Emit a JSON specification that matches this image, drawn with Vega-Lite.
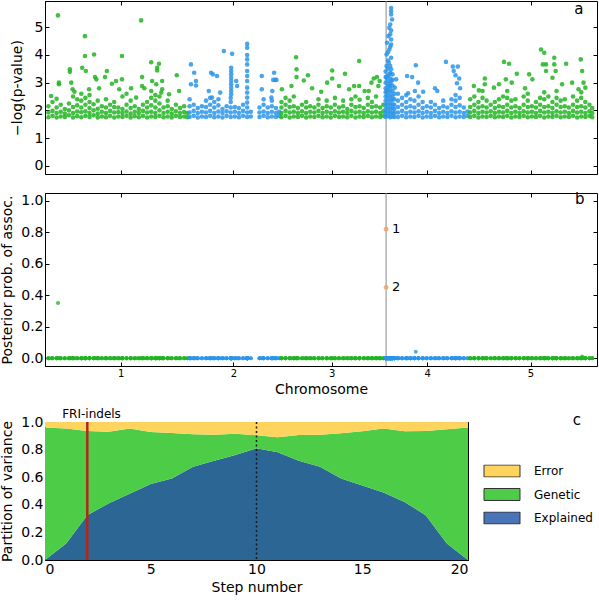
{
"$schema":"https://vega.github.io/schema/vega-lite/v6.json",
"padding":0,
"background":"white",
"config":{
 "font":"DejaVu Sans",
 "view":{"stroke":"black","strokeWidth":1},
 "axis":{"grid":false,"domainColor":"black","tickColor":"black","labelColor":"black","titleColor":"black","tickSize":-4,"labelPadding":6,"labelFontSize":14,"titleFontSize":14,"titleFontWeight":"normal","labelFont":"DejaVu Sans","titleFont":"DejaVu Sans"},
 "legend":{"labelFont":"DejaVu Sans"}
},
"resolve":{"scale":{"color":"independent"}},
"datasets":{
"snp":[
{"x":0.3,"y":1.75,"p":0,"c":1},{"x":0.3,"y":1.92,"p":0,"c":1},{"x":0.3,"y":2.15,"p":0,"c":1},
{"x":1.2,"y":1.8,"p":0,"c":1},{"x":1.2,"y":1.98,"p":0,"c":1},{"x":1.2,"y":2.3,"p":0,"c":1},
{"x":2.1,"y":1.74,"p":0,"c":1},{"x":2.1,"y":1.9,"p":0,"c":1},{"x":2.1,"y":2.1,"p":0,"c":1},{"x":2.1,"y":2.42,"p":0,"c":1},
{"x":3.0,"y":1.78,"p":0,"c":1},{"x":3.0,"y":1.95,"p":0,"c":1},{"x":3.0,"y":2.2,"p":0,"c":1},
{"x":3.9,"y":1.76,"p":0,"c":1},{"x":3.9,"y":1.88,"p":0,"c":1},{"x":3.9,"y":2.05,"p":0,"c":1},
{"x":4.8,"y":1.82,"p":0,"c":1},{"x":4.8,"y":2.0,"p":0,"c":1},{"x":4.8,"y":2.25,"p":0,"c":1},
{"x":5.7,"y":1.74,"p":0,"c":1},{"x":5.7,"y":1.9,"p":0,"c":1},{"x":5.7,"y":2.12,"p":0,"c":1},{"x":5.7,"y":2.5,"p":0,"c":1},
{"x":6.6,"y":1.79,"p":0,"c":1},{"x":6.6,"y":1.96,"p":0,"c":1},{"x":6.6,"y":2.18,"p":0,"c":1},{"x":6.6,"y":2.4,"p":0,"c":1},
{"x":7.5,"y":1.75,"p":0,"c":1},{"x":7.5,"y":1.93,"p":0,"c":1},{"x":7.5,"y":2.1,"p":0,"c":1},{"x":7.5,"y":2.35,"p":0,"c":1},{"x":7.5,"y":2.6,"p":0,"c":1},
{"x":8.4,"y":1.8,"p":0,"c":1},{"x":8.4,"y":1.97,"p":0,"c":1},{"x":8.4,"y":2.2,"p":0,"c":1},{"x":8.4,"y":2.45,"p":0,"c":1},
{"x":9.3,"y":1.76,"p":0,"c":1},{"x":9.3,"y":1.9,"p":0,"c":1},{"x":9.3,"y":2.08,"p":0,"c":1},{"x":9.3,"y":2.3,"p":0,"c":1},{"x":9.3,"y":2.55,"p":0,"c":1},
{"x":10.2,"y":1.82,"p":0,"c":1},{"x":10.2,"y":2.0,"p":0,"c":1},{"x":10.2,"y":2.22,"p":0,"c":1},
{"x":11.1,"y":1.74,"p":0,"c":1},{"x":11.1,"y":1.88,"p":0,"c":1},{"x":11.1,"y":2.06,"p":0,"c":1},{"x":11.1,"y":2.35,"p":0,"c":1},
{"x":12.0,"y":1.78,"p":0,"c":1},{"x":12.0,"y":1.95,"p":0,"c":1},{"x":12.0,"y":2.15,"p":0,"c":1},
{"x":12.9,"y":1.75,"p":0,"c":1},{"x":12.9,"y":1.9,"p":0,"c":1},{"x":12.9,"y":2.1,"p":0,"c":1},{"x":12.9,"y":2.4,"p":0,"c":1},
{"x":13.8,"y":1.8,"p":0,"c":1},{"x":13.8,"y":1.98,"p":0,"c":1},{"x":13.8,"y":2.2,"p":0,"c":1},
{"x":14.7,"y":1.74,"p":0,"c":1},{"x":14.7,"y":1.92,"p":0,"c":1},{"x":14.7,"y":2.12,"p":0,"c":1},{"x":14.7,"y":2.3,"p":0,"c":1},
{"x":15.6,"y":1.78,"p":0,"c":1},{"x":15.6,"y":1.94,"p":0,"c":1},{"x":15.6,"y":2.1,"p":0,"c":1},
{"x":16.5,"y":1.76,"p":0,"c":1},{"x":16.5,"y":1.9,"p":0,"c":1},{"x":16.5,"y":2.05,"p":0,"c":1},{"x":16.5,"y":2.5,"p":0,"c":1},
{"x":17.4,"y":1.8,"p":0,"c":1},{"x":17.4,"y":1.96,"p":0,"c":1},{"x":17.4,"y":2.2,"p":0,"c":1},{"x":17.4,"y":2.6,"p":0,"c":1},
{"x":18.3,"y":1.74,"p":0,"c":1},{"x":18.3,"y":1.88,"p":0,"c":1},{"x":18.3,"y":2.08,"p":0,"c":1},{"x":18.3,"y":2.35,"p":0,"c":1},
{"x":19.2,"y":1.79,"p":0,"c":1},{"x":19.2,"y":1.95,"p":0,"c":1},{"x":19.2,"y":2.15,"p":0,"c":1},
{"x":20.1,"y":1.75,"p":0,"c":1},{"x":20.1,"y":1.9,"p":0,"c":1},{"x":20.1,"y":2.05,"p":0,"c":1},
{"x":21.0,"y":1.8,"p":0,"c":1},{"x":21.0,"y":1.98,"p":0,"c":1},{"x":21.0,"y":2.2,"p":0,"c":1},
{"x":21.9,"y":1.74,"p":0,"c":1},{"x":21.9,"y":1.92,"p":0,"c":1},{"x":21.9,"y":2.1,"p":0,"c":1},{"x":21.9,"y":2.3,"p":0,"c":1},
{"x":22.8,"y":1.78,"p":0,"c":1},{"x":22.8,"y":1.95,"p":0,"c":1},{"x":22.8,"y":2.18,"p":0,"c":1},{"x":22.8,"y":2.45,"p":0,"c":1},{"x":22.8,"y":2.7,"p":0,"c":1},
{"x":23.7,"y":1.76,"p":0,"c":1},{"x":23.7,"y":1.9,"p":0,"c":1},{"x":23.7,"y":2.1,"p":0,"c":1},{"x":23.7,"y":2.35,"p":0,"c":1},{"x":23.7,"y":2.55,"p":0,"c":1},
{"x":24.6,"y":1.8,"p":0,"c":1},{"x":24.6,"y":2.0,"p":0,"c":1},{"x":24.6,"y":2.25,"p":0,"c":1},{"x":24.6,"y":2.5,"p":0,"c":1},
{"x":25.5,"y":1.75,"p":0,"c":1},{"x":25.5,"y":1.9,"p":0,"c":1},{"x":25.5,"y":2.1,"p":0,"c":1},
{"x":26.4,"y":1.78,"p":0,"c":1},{"x":26.4,"y":1.95,"p":0,"c":1},{"x":26.4,"y":2.15,"p":0,"c":1},{"x":26.4,"y":2.35,"p":0,"c":1},
{"x":27.3,"y":1.74,"p":0,"c":1},{"x":27.3,"y":1.88,"p":0,"c":1},{"x":27.3,"y":2.05,"p":0,"c":1},
{"x":28.2,"y":1.8,"p":0,"c":1},{"x":28.2,"y":1.97,"p":0,"c":1},{"x":28.2,"y":2.2,"p":0,"c":1},
{"x":29.1,"y":1.76,"p":0,"c":1},{"x":29.1,"y":1.9,"p":0,"c":1},{"x":29.1,"y":2.08,"p":0,"c":1},
{"x":30.0,"y":1.78,"p":0,"c":1},{"x":30.0,"y":1.94,"p":0,"c":1},{"x":30.0,"y":2.15,"p":0,"c":1},
{"x":30.7,"y":1.75,"p":0,"c":1},{"x":30.7,"y":1.9,"p":0,"c":1},
{"x":2.4,"y":5.43,"p":0.35,"c":1},{"x":8.3,"y":4.68,"p":0,"c":1},{"x":8.3,"y":3.96,"p":0,"c":1},{"x":10.3,"y":4.02,"p":0,"c":1},{"x":20.6,"y":5.25,"p":0,"c":1},{"x":16.4,"y":3.96,"p":0,"c":1},{"x":22.8,"y":3.74,"p":0,"c":1},{"x":24.5,"y":3.68,"p":0,"c":1},{"x":24.1,"y":3.54,"p":0,"c":1},{"x":24.1,"y":3.44,"p":0,"c":1},{"x":28.4,"y":3.27,"p":0,"c":1},{"x":2.6,"y":3.0,"p":0,"c":1},{"x":2.6,"y":2.94,"p":0,"c":1},{"x":5.0,"y":3.48,"p":0,"c":1},{"x":5.0,"y":3.39,"p":0,"c":1},{"x":7.7,"y":3.54,"p":0,"c":1},{"x":8.5,"y":3.42,"p":0,"c":1},{"x":10.5,"y":3.2,"p":0,"c":1},{"x":10.8,"y":3.12,"p":0,"c":1},{"x":13.1,"y":3.42,"p":0,"c":1},{"x":12.7,"y":3.2,"p":0,"c":1},{"x":15.1,"y":3.06,"p":0,"c":1},{"x":16.4,"y":3.12,"p":0,"c":1},{"x":20.8,"y":3.2,"p":0,"c":1},{"x":23.0,"y":3.06,"p":0,"c":1},{"x":23.9,"y":2.94,"p":0,"c":1},{"x":25.2,"y":3.06,"p":0,"c":1},{"x":0.9,"y":2.52,"p":0,"c":1},{"x":5.3,"y":3.0,"p":0,"c":1},{"x":5.6,"y":2.76,"p":0,"c":1},{"x":6.0,"y":2.67,"p":0,"c":1},{"x":9.2,"y":2.76,"p":0,"c":1},{"x":11.4,"y":2.8,"p":0,"c":1},{"x":14.2,"y":2.96,"p":0,"c":1},{"x":15.8,"y":2.76,"p":0,"c":1},{"x":18.4,"y":2.8,"p":0,"c":1},{"x":19.5,"y":2.46,"p":0,"c":1},{"x":20.8,"y":2.88,"p":0,"c":1},{"x":21.3,"y":2.8,"p":0,"c":1},{"x":25.2,"y":2.76,"p":0,"c":1},{"x":25.0,"y":2.64,"p":0,"c":1},{"x":26.7,"y":2.58,"p":0,"c":1},{"x":28.9,"y":2.7,"p":0,"c":1},
{"x":31.2,"y":1.76,"p":0,"c":2},{"x":31.2,"y":1.92,"p":0,"c":2},{"x":31.2,"y":2.15,"p":0,"c":2},{"x":31.2,"y":2.4,"p":0,"c":2},
{"x":32.1,"y":1.8,"p":0,"c":2},{"x":32.1,"y":1.98,"p":0,"c":2},{"x":32.1,"y":2.2,"p":0,"c":2},
{"x":33.0,"y":1.74,"p":0,"c":2},{"x":33.0,"y":1.9,"p":0,"c":2},{"x":33.0,"y":2.08,"p":0,"c":2},
{"x":33.9,"y":1.78,"p":0,"c":2},{"x":33.9,"y":1.95,"p":0,"c":2},{"x":33.9,"y":2.15,"p":0,"c":2},
{"x":34.8,"y":1.76,"p":0,"c":2},{"x":34.8,"y":1.92,"p":0,"c":2},{"x":34.8,"y":2.12,"p":0,"c":2},{"x":34.8,"y":2.35,"p":0,"c":2},
{"x":35.7,"y":1.8,"p":0,"c":2},{"x":35.7,"y":1.98,"p":0,"c":2},{"x":35.7,"y":2.2,"p":0,"c":2},{"x":35.7,"y":2.45,"p":0,"c":2},
{"x":36.6,"y":1.75,"p":0,"c":2},{"x":36.6,"y":1.9,"p":0,"c":2},{"x":36.6,"y":2.1,"p":0,"c":2},{"x":36.6,"y":2.3,"p":0,"c":2},
{"x":37.5,"y":1.78,"p":0,"c":2},{"x":37.5,"y":1.96,"p":0,"c":2},{"x":37.5,"y":2.18,"p":0,"c":2},{"x":37.5,"y":2.4,"p":0,"c":2},
{"x":38.4,"y":1.74,"p":0,"c":2},{"x":38.4,"y":1.9,"p":0,"c":2},{"x":38.4,"y":2.05,"p":0,"c":2},
{"x":39.3,"y":1.8,"p":0,"c":2},{"x":39.3,"y":1.97,"p":0,"c":2},{"x":39.3,"y":2.15,"p":0,"c":2},
{"x":40.2,"y":1.76,"p":0,"c":2},{"x":40.2,"y":1.92,"p":0,"c":2},{"x":40.2,"y":2.1,"p":0,"c":2},{"x":40.2,"y":2.3,"p":0,"c":2},{"x":40.2,"y":2.45,"p":0,"c":2},
{"x":41.1,"y":1.78,"p":0,"c":2},{"x":41.1,"y":1.95,"p":0,"c":2},{"x":41.1,"y":2.12,"p":0,"c":2},
{"x":42.0,"y":1.75,"p":0,"c":2},{"x":42.0,"y":1.9,"p":0,"c":2},{"x":42.0,"y":2.08,"p":0,"c":2},
{"x":42.9,"y":1.8,"p":0,"c":2},{"x":42.9,"y":1.98,"p":0,"c":2},{"x":42.9,"y":2.2,"p":0,"c":2},
{"x":43.8,"y":1.76,"p":0,"c":2},{"x":43.8,"y":1.92,"p":0,"c":2},{"x":43.8,"y":2.1,"p":0,"c":2},{"x":43.8,"y":2.28,"p":0,"c":2},
{"x":44.6,"y":1.78,"p":0,"c":2},{"x":44.6,"y":1.95,"p":0,"c":2},
{"x":46.5,"y":1.76,"p":0,"c":2},{"x":46.5,"y":1.92,"p":0,"c":2},{"x":46.5,"y":2.1,"p":0,"c":2},
{"x":47.4,"y":1.8,"p":0,"c":2},{"x":47.4,"y":1.96,"p":0,"c":2},{"x":47.4,"y":2.2,"p":0,"c":2},{"x":47.4,"y":2.4,"p":0,"c":2},
{"x":48.3,"y":1.75,"p":0,"c":2},{"x":48.3,"y":1.9,"p":0,"c":2},{"x":48.3,"y":2.1,"p":0,"c":2},
{"x":49.2,"y":1.78,"p":0,"c":2},{"x":49.2,"y":1.95,"p":0,"c":2},{"x":49.2,"y":2.15,"p":0,"c":2},{"x":49.2,"y":2.35,"p":0,"c":2},
{"x":50.1,"y":1.76,"p":0,"c":2},{"x":50.1,"y":1.9,"p":0,"c":2},{"x":50.1,"y":2.08,"p":0,"c":2},
{"x":50.8,"y":1.8,"p":0,"c":2},{"x":50.8,"y":1.95,"p":0,"c":2},
{"x":31.5,"y":3.66,"p":0,"c":2},{"x":32.2,"y":3.36,"p":0,"c":2},{"x":32.6,"y":3.06,"p":0,"c":2},{"x":32.6,"y":2.9,"p":0,"c":2},{"x":31.5,"y":2.94,"p":0,"c":2},{"x":35.9,"y":3.36,"p":0,"c":2},{"x":36.3,"y":3.3,"p":0,"c":2},{"x":37.2,"y":3.24,"p":0,"c":2},{"x":38.7,"y":4.14,"p":0,"c":2},{"x":40.5,"y":4.04,"p":0,"c":2},
{"x":40.3,"y":3.54,"p":0,"c":2},{"x":40.3,"y":3.42,"p":0,"c":2},{"x":40.3,"y":3.3,"p":0,"c":2},{"x":40.3,"y":3.18,"p":0,"c":2},{"x":40.3,"y":3.06,"p":0,"c":2},{"x":40.3,"y":2.94,"p":0,"c":2},{"x":40.3,"y":2.82,"p":0,"c":2},{"x":40.3,"y":2.7,"p":0,"c":2},{"x":40.3,"y":2.58,"p":0,"c":2},
{"x":41.4,"y":3.06,"p":0,"c":2},{"x":41.6,"y":2.88,"p":0,"c":2},
{"x":43.8,"y":4.4,"p":0,"c":2},{"x":43.8,"y":4.26,"p":0,"c":2},{"x":43.8,"y":4.0,"p":0,"c":2},{"x":43.8,"y":3.84,"p":0,"c":2},{"x":43.8,"y":3.66,"p":0,"c":2},{"x":43.8,"y":3.42,"p":0,"c":2},{"x":43.8,"y":3.24,"p":0,"c":2},{"x":43.8,"y":3.06,"p":0,"c":2},{"x":43.8,"y":2.82,"p":0,"c":2},{"x":43.8,"y":2.64,"p":0,"c":2},{"x":43.8,"y":2.46,"p":0,"c":2},
{"x":47.0,"y":3.24,"p":0,"c":2},{"x":47.0,"y":2.76,"p":0,"c":2},{"x":49.7,"y":3.36,"p":0,"c":2},{"x":49.9,"y":3.1,"p":0,"c":2},{"x":49.5,"y":3.1,"p":0,"c":2},{"x":50.2,"y":3.1,"p":0,"c":2},{"x":49.3,"y":2.7,"p":0,"c":2},{"x":49.1,"y":2.46,"p":0,"c":2},{"x":36.1,"y":2.46,"p":0,"c":2},{"x":35.4,"y":2.7,"p":0,"c":2},{"x":37.9,"y":2.64,"p":0,"c":2},
{"x":51.3,"y":1.75,"p":0,"c":3},{"x":51.3,"y":1.9,"p":0,"c":3},{"x":51.3,"y":2.1,"p":0,"c":3},{"x":51.3,"y":2.3,"p":0,"c":3},
{"x":52.2,"y":1.8,"p":0,"c":3},{"x":52.2,"y":1.98,"p":0,"c":3},{"x":52.2,"y":2.2,"p":0,"c":3},{"x":52.2,"y":2.45,"p":0,"c":3},
{"x":53.1,"y":1.74,"p":0,"c":3},{"x":53.1,"y":1.92,"p":0,"c":3},{"x":53.1,"y":2.12,"p":0,"c":3},{"x":53.1,"y":2.35,"p":0,"c":3},
{"x":54.0,"y":1.78,"p":0,"c":3},{"x":54.0,"y":1.95,"p":0,"c":3},{"x":54.0,"y":2.15,"p":0,"c":3},{"x":54.0,"y":2.5,"p":0,"c":3},
{"x":54.9,"y":1.76,"p":0,"c":3},{"x":54.9,"y":1.9,"p":0,"c":3},{"x":54.9,"y":2.08,"p":0,"c":3},
{"x":55.8,"y":1.8,"p":0,"c":3},{"x":55.8,"y":1.97,"p":0,"c":3},{"x":55.8,"y":2.2,"p":0,"c":3},
{"x":56.7,"y":1.74,"p":0,"c":3},{"x":56.7,"y":1.9,"p":0,"c":3},{"x":56.7,"y":2.1,"p":0,"c":3},{"x":56.7,"y":2.3,"p":0,"c":3},
{"x":57.6,"y":1.78,"p":0,"c":3},{"x":57.6,"y":1.95,"p":0,"c":3},{"x":57.6,"y":2.15,"p":0,"c":3},
{"x":58.5,"y":1.76,"p":0,"c":3},{"x":58.5,"y":1.92,"p":0,"c":3},{"x":58.5,"y":2.1,"p":0,"c":3},
{"x":59.4,"y":1.8,"p":0,"c":3},{"x":59.4,"y":1.98,"p":0,"c":3},{"x":59.4,"y":2.2,"p":0,"c":3},{"x":59.4,"y":2.4,"p":0,"c":3},
{"x":60.3,"y":1.75,"p":0,"c":3},{"x":60.3,"y":1.9,"p":0,"c":3},{"x":60.3,"y":2.08,"p":0,"c":3},
{"x":61.2,"y":1.78,"p":0,"c":3},{"x":61.2,"y":1.95,"p":0,"c":3},{"x":61.2,"y":2.15,"p":0,"c":3},{"x":61.2,"y":2.35,"p":0,"c":3},
{"x":62.1,"y":1.74,"p":0,"c":3},{"x":62.1,"y":1.9,"p":0,"c":3},{"x":62.1,"y":2.1,"p":0,"c":3},
{"x":63.0,"y":1.8,"p":0,"c":3},{"x":63.0,"y":1.97,"p":0,"c":3},{"x":63.0,"y":2.2,"p":0,"c":3},{"x":63.0,"y":2.45,"p":0,"c":3},
{"x":63.9,"y":1.76,"p":0,"c":3},{"x":63.9,"y":1.92,"p":0,"c":3},{"x":63.9,"y":2.1,"p":0,"c":3},
{"x":64.8,"y":1.78,"p":0,"c":3},{"x":64.8,"y":1.95,"p":0,"c":3},{"x":64.8,"y":2.15,"p":0,"c":3},{"x":64.8,"y":2.35,"p":0,"c":3},
{"x":65.7,"y":1.75,"p":0,"c":3},{"x":65.7,"y":1.9,"p":0,"c":3},{"x":65.7,"y":2.05,"p":0,"c":3},
{"x":66.6,"y":1.8,"p":0,"c":3},{"x":66.6,"y":1.98,"p":0,"c":3},{"x":66.6,"y":2.2,"p":0,"c":3},{"x":66.6,"y":2.4,"p":0,"c":3},
{"x":67.5,"y":1.74,"p":0,"c":3},{"x":67.5,"y":1.92,"p":0,"c":3},{"x":67.5,"y":2.12,"p":0,"c":3},{"x":67.5,"y":2.5,"p":0,"c":3},
{"x":68.4,"y":1.78,"p":0,"c":3},{"x":68.4,"y":1.95,"p":0,"c":3},{"x":68.4,"y":2.15,"p":0,"c":3},{"x":68.4,"y":2.38,"p":0,"c":3},
{"x":69.3,"y":1.76,"p":0,"c":3},{"x":69.3,"y":1.9,"p":0,"c":3},{"x":69.3,"y":2.08,"p":0,"c":3},
{"x":70.2,"y":1.8,"p":0,"c":3},{"x":70.2,"y":1.97,"p":0,"c":3},{"x":70.2,"y":2.2,"p":0,"c":3},{"x":70.2,"y":2.45,"p":0,"c":3},
{"x":71.1,"y":1.75,"p":0,"c":3},{"x":71.1,"y":1.92,"p":0,"c":3},{"x":71.1,"y":2.12,"p":0,"c":3},{"x":71.1,"y":2.3,"p":0,"c":3},
{"x":72.0,"y":1.78,"p":0,"c":3},{"x":72.0,"y":1.95,"p":0,"c":3},{"x":72.0,"y":2.15,"p":0,"c":3},{"x":72.0,"y":2.5,"p":0,"c":3},
{"x":72.9,"y":1.76,"p":0,"c":3},{"x":72.9,"y":1.9,"p":0,"c":3},{"x":72.9,"y":2.1,"p":0,"c":3},
{"x":73.6,"y":1.8,"p":0,"c":3},{"x":73.6,"y":1.97,"p":0,"c":3},{"x":73.6,"y":2.2,"p":0,"c":3},
{"x":51.4,"y":2.76,"p":0,"c":3},{"x":53.5,"y":2.88,"p":0,"c":3},{"x":54.5,"y":3.92,"p":0,"c":3},{"x":54.6,"y":3.48,"p":0,"c":3},{"x":54.6,"y":3.2,"p":0,"c":3},{"x":56.2,"y":3.08,"p":0,"c":3},{"x":57.1,"y":3.27,"p":0,"c":3},{"x":58.0,"y":2.8,"p":0,"c":3},{"x":60.0,"y":2.67,"p":0,"c":3},{"x":61.3,"y":3.0,"p":0,"c":3},{"x":62.4,"y":3.44,"p":0,"c":3},{"x":62.4,"y":3.15,"p":0,"c":3},{"x":63.9,"y":2.88,"p":0,"c":3},{"x":65.2,"y":3.32,"p":0,"c":3},{"x":66.1,"y":2.76,"p":0,"c":3},{"x":67.2,"y":2.88,"p":0,"c":3},{"x":68.3,"y":3.78,"p":0,"c":3},{"x":68.3,"y":2.88,"p":0,"c":3},{"x":71.0,"y":3.0,"p":0,"c":3},{"x":71.5,"y":3.15,"p":0,"c":3},{"x":72.2,"y":3.2,"p":0,"c":3},{"x":72.8,"y":3.06,"p":0,"c":3},{"x":69.5,"y":2.7,"p":0,"c":3},{"x":70.4,"y":2.7,"p":0,"c":3},{"x":72.5,"y":2.88,"p":0,"c":3},
{"x":74.1,"y":1.76,"p":0,"c":4},{"x":74.1,"y":1.9,"p":0,"c":4},{"x":74.1,"y":2.05,"p":0,"c":4},{"x":74.1,"y":2.2,"p":0,"c":4},{"x":74.1,"y":2.35,"p":0,"c":4},{"x":74.1,"y":2.5,"p":0,"c":4},{"x":74.1,"y":2.65,"p":0,"c":4},{"x":74.1,"y":2.8,"p":0,"c":4},{"x":74.1,"y":3.0,"p":0,"c":4},{"x":74.1,"y":3.2,"p":0,"c":4},{"x":74.1,"y":3.4,"p":0,"c":4},
{"x":74.6,"y":1.8,"p":0,"c":4},{"x":74.6,"y":1.95,"p":0,"c":4},{"x":74.6,"y":2.1,"p":0,"c":4},{"x":74.6,"y":2.25,"p":0,"c":4},{"x":74.6,"y":2.4,"p":0,"c":4},{"x":74.6,"y":2.55,"p":0,"c":4},{"x":74.6,"y":2.72,"p":0,"c":4},{"x":74.6,"y":2.9,"p":0,"c":4},{"x":74.6,"y":3.05,"p":0,"c":4},{"x":74.6,"y":3.25,"p":0,"c":4},{"x":74.6,"y":3.5,"p":0,"c":4},{"x":74.6,"y":3.8,"p":0,"c":4},{"x":74.6,"y":4.1,"p":0,"c":4},
{"x":75.1,"y":1.75,"p":0,"c":4},{"x":75.1,"y":1.9,"p":0,"c":4},{"x":75.1,"y":2.05,"p":0,"c":4},{"x":75.1,"y":2.2,"p":0,"c":4},{"x":75.1,"y":2.35,"p":0,"c":4},{"x":75.1,"y":2.5,"p":0,"c":4},{"x":75.1,"y":2.65,"p":0,"c":4},{"x":75.1,"y":2.8,"p":0,"c":4},{"x":75.1,"y":2.95,"p":0,"c":4},{"x":75.1,"y":3.15,"p":0,"c":4},{"x":75.1,"y":3.35,"p":0,"c":4},{"x":75.1,"y":3.6,"p":0,"c":4},{"x":75.1,"y":4.3,"p":0,"c":4},{"x":75.1,"y":4.75,"p":0,"c":4},{"x":75.1,"y":5.1,"p":0,"c":4},
{"x":75.6,"y":1.78,"p":0,"c":4},{"x":75.6,"y":1.92,"p":0,"c":4},{"x":75.6,"y":2.08,"p":0,"c":4},{"x":75.6,"y":2.22,"p":0,"c":4},{"x":75.6,"y":2.38,"p":0,"c":4},{"x":75.6,"y":2.52,"p":0,"c":4},{"x":75.6,"y":2.7,"p":0,"c":4},{"x":75.6,"y":2.9,"p":0,"c":4},{"x":75.6,"y":3.1,"p":0,"c":4},{"x":75.6,"y":3.3,"p":0,"c":4},
{"x":76.0,"y":1.76,"p":0,"c":4},{"x":76.0,"y":1.9,"p":0,"c":4},{"x":76.0,"y":2.05,"p":0,"c":4},{"x":76.0,"y":2.2,"p":0,"c":4},{"x":76.0,"y":2.4,"p":0,"c":4},{"x":76.0,"y":2.6,"p":0,"c":4},
{"x":75.3,"y":5.7,"p":0,"c":4},{"x":75.3,"y":5.58,"p":0,"c":4},{"x":75.3,"y":5.46,"p":0,"c":4},{"x":75.5,"y":5.28,"p":0,"c":4},{"x":74.9,"y":4.98,"p":0,"c":4},{"x":75.3,"y":4.88,"p":0,"c":4},{"x":74.7,"y":4.68,"p":0,"c":4},{"x":75.3,"y":4.56,"p":0,"c":4},{"x":74.4,"y":4.44,"p":0,"c":4},{"x":75.3,"y":4.38,"p":0,"c":4},{"x":74.9,"y":4.2,"p":0,"c":4},{"x":74.3,"y":4.02,"p":0,"c":4},{"x":75.3,"y":3.9,"p":0,"c":4},{"x":74.8,"y":3.72,"p":0,"c":4},{"x":74.3,"y":3.6,"p":0,"c":4},{"x":75.3,"y":3.48,"p":0,"c":4},{"x":74.9,"y":3.3,"p":0,"c":4},{"x":74.3,"y":3.18,"p":0,"c":4},{"x":75.3,"y":3.06,"p":0,"c":4},{"x":74.9,"y":2.88,"p":0,"c":4},{"x":74.3,"y":2.7,"p":0,"c":4},{"x":76.4,"y":3.12,"p":0,"c":4},{"x":76.1,"y":2.82,"p":0,"c":4},
{"x":76.8,"y":1.76,"p":0,"c":4},{"x":76.8,"y":1.92,"p":0,"c":4},{"x":76.8,"y":2.12,"p":0,"c":4},{"x":76.8,"y":2.35,"p":0,"c":4},{"x":76.8,"y":2.6,"p":0,"c":4},
{"x":77.7,"y":1.8,"p":0,"c":4},{"x":77.7,"y":1.98,"p":0,"c":4},{"x":77.7,"y":2.2,"p":0,"c":4},{"x":77.7,"y":2.45,"p":0,"c":4},
{"x":78.6,"y":1.75,"p":0,"c":4},{"x":78.6,"y":1.9,"p":0,"c":4},{"x":78.6,"y":2.1,"p":0,"c":4},{"x":78.6,"y":2.3,"p":0,"c":4},{"x":78.6,"y":2.55,"p":0,"c":4},
{"x":79.5,"y":1.78,"p":0,"c":4},{"x":79.5,"y":1.95,"p":0,"c":4},{"x":79.5,"y":2.15,"p":0,"c":4},{"x":79.5,"y":2.4,"p":0,"c":4},
{"x":80.4,"y":1.76,"p":0,"c":4},{"x":80.4,"y":1.92,"p":0,"c":4},{"x":80.4,"y":2.1,"p":0,"c":4},{"x":80.4,"y":2.35,"p":0,"c":4},
{"x":81.3,"y":1.8,"p":0,"c":4},{"x":81.3,"y":1.97,"p":0,"c":4},{"x":81.3,"y":2.2,"p":0,"c":4},{"x":81.3,"y":2.5,"p":0,"c":4},
{"x":82.2,"y":1.74,"p":0,"c":4},{"x":82.2,"y":1.9,"p":0,"c":4},{"x":82.2,"y":2.08,"p":0,"c":4},{"x":82.2,"y":2.3,"p":0,"c":4},
{"x":83.1,"y":1.78,"p":0,"c":4},{"x":83.1,"y":1.95,"p":0,"c":4},{"x":83.1,"y":2.15,"p":0,"c":4},
{"x":84.0,"y":1.76,"p":0,"c":4},{"x":84.0,"y":1.9,"p":0,"c":4},{"x":84.0,"y":2.1,"p":0,"c":4},{"x":84.0,"y":2.3,"p":0,"c":4},
{"x":84.9,"y":1.8,"p":0,"c":4},{"x":84.9,"y":1.98,"p":0,"c":4},{"x":84.9,"y":2.2,"p":0,"c":4},
{"x":85.8,"y":1.75,"p":0,"c":4},{"x":85.8,"y":1.9,"p":0,"c":4},{"x":85.8,"y":2.08,"p":0,"c":4},
{"x":86.7,"y":1.78,"p":0,"c":4},{"x":86.7,"y":1.95,"p":0,"c":4},{"x":86.7,"y":2.15,"p":0,"c":4},{"x":86.7,"y":2.35,"p":0,"c":4},
{"x":87.6,"y":1.76,"p":0,"c":4},{"x":87.6,"y":1.9,"p":0,"c":4},{"x":87.6,"y":2.1,"p":0,"c":4},
{"x":88.5,"y":1.8,"p":0,"c":4},{"x":88.5,"y":1.97,"p":0,"c":4},{"x":88.5,"y":2.2,"p":0,"c":4},{"x":88.5,"y":2.4,"p":0,"c":4},
{"x":89.4,"y":1.75,"p":0,"c":4},{"x":89.4,"y":1.92,"p":0,"c":4},{"x":89.4,"y":2.12,"p":0,"c":4},{"x":89.4,"y":2.35,"p":0,"c":4},{"x":89.4,"y":2.55,"p":0,"c":4},
{"x":90.3,"y":1.78,"p":0,"c":4},{"x":90.3,"y":1.95,"p":0,"c":4},{"x":90.3,"y":2.18,"p":0,"c":4},{"x":90.3,"y":2.45,"p":0,"c":4},
{"x":91.2,"y":1.76,"p":0,"c":4},{"x":91.2,"y":1.9,"p":0,"c":4},{"x":91.2,"y":2.1,"p":0,"c":4},
{"x":92.0,"y":1.8,"p":0,"c":4},{"x":92.0,"y":1.96,"p":0,"c":4},
{"x":78.8,"y":3.24,"p":0,"c":4},{"x":79.9,"y":3.2,"p":0,"c":4},{"x":80.7,"y":3.63,"p":0.04,"c":4},{"x":81.2,"y":3.0,"p":0,"c":4},{"x":87.3,"y":3.75,"p":0,"c":4},{"x":88.8,"y":3.58,"p":0,"c":4},{"x":89.9,"y":3.58,"p":0,"c":4},{"x":89.0,"y":3.42,"p":0,"c":4},{"x":89.4,"y":3.27,"p":0,"c":4},{"x":90.2,"y":3.15,"p":0,"c":4},{"x":89.7,"y":2.98,"p":0,"c":4},{"x":90.4,"y":2.8,"p":0,"c":4},{"x":80.5,"y":2.7,"p":0,"c":4},{"x":82.3,"y":2.67,"p":0,"c":4},{"x":84.9,"y":2.8,"p":0,"c":4},{"x":85.4,"y":2.7,"p":0,"c":4},{"x":79.0,"y":2.62,"p":0,"c":4},
{"x":92.6,"y":1.76,"p":0,"c":5},{"x":92.6,"y":1.92,"p":0,"c":5},{"x":92.6,"y":2.12,"p":0,"c":5},{"x":92.6,"y":2.4,"p":0,"c":5},
{"x":93.5,"y":1.8,"p":0,"c":5},{"x":93.5,"y":1.98,"p":0,"c":5},{"x":93.5,"y":2.2,"p":0,"c":5},{"x":93.5,"y":2.5,"p":0,"c":5},
{"x":94.4,"y":1.74,"p":0,"c":5},{"x":94.4,"y":1.9,"p":0,"c":5},{"x":94.4,"y":2.1,"p":0,"c":5},{"x":94.4,"y":2.3,"p":0,"c":5},
{"x":95.3,"y":1.78,"p":0,"c":5},{"x":95.3,"y":1.95,"p":0,"c":5},{"x":95.3,"y":2.15,"p":0,"c":5},{"x":95.3,"y":2.45,"p":0,"c":5},{"x":95.3,"y":2.7,"p":0,"c":5},
{"x":96.2,"y":1.76,"p":0,"c":5},{"x":96.2,"y":1.92,"p":0,"c":5},{"x":96.2,"y":2.1,"p":0,"c":5},{"x":96.2,"y":2.35,"p":0,"c":5},
{"x":97.1,"y":1.8,"p":0,"c":5},{"x":97.1,"y":1.97,"p":0,"c":5},{"x":97.1,"y":2.2,"p":0,"c":5},
{"x":98.0,"y":1.75,"p":0,"c":5},{"x":98.0,"y":1.9,"p":0,"c":5},{"x":98.0,"y":2.08,"p":0,"c":5},{"x":98.0,"y":2.3,"p":0,"c":5},
{"x":98.9,"y":1.78,"p":0,"c":5},{"x":98.9,"y":1.95,"p":0,"c":5},{"x":98.9,"y":2.15,"p":0,"c":5},{"x":98.9,"y":2.4,"p":0,"c":5},
{"x":99.8,"y":1.76,"p":0,"c":5},{"x":99.8,"y":1.92,"p":0,"c":5},{"x":99.8,"y":2.12,"p":0,"c":5},{"x":99.8,"y":2.5,"p":0,"c":5},
{"x":100.7,"y":1.8,"p":0,"c":5},{"x":100.7,"y":1.98,"p":0,"c":5},{"x":100.7,"y":2.2,"p":0,"c":5},{"x":100.7,"y":2.45,"p":0,"c":5},{"x":100.7,"y":2.7,"p":0,"c":5},
{"x":101.6,"y":1.74,"p":0,"c":5},{"x":101.6,"y":1.9,"p":0,"c":5},{"x":101.6,"y":2.1,"p":0,"c":5},{"x":101.6,"y":2.35,"p":0,"c":5},
{"x":102.5,"y":1.78,"p":0,"c":5},{"x":102.5,"y":1.95,"p":0,"c":5},{"x":102.5,"y":2.15,"p":0,"c":5},{"x":102.5,"y":2.4,"p":0,"c":5},
{"x":103.4,"y":1.76,"p":0,"c":5},{"x":103.4,"y":1.9,"p":0,"c":5},{"x":103.4,"y":2.08,"p":0,"c":5},
{"x":104.3,"y":1.8,"p":0,"c":5},{"x":104.3,"y":1.97,"p":0,"c":5},{"x":104.3,"y":2.2,"p":0,"c":5},{"x":104.3,"y":2.5,"p":0,"c":5},
{"x":105.2,"y":1.75,"p":0,"c":5},{"x":105.2,"y":1.92,"p":0,"c":5},{"x":105.2,"y":2.12,"p":0,"c":5},{"x":105.2,"y":2.35,"p":0,"c":5},{"x":105.2,"y":2.6,"p":0,"c":5},
{"x":106.1,"y":1.78,"p":0,"c":5},{"x":106.1,"y":1.95,"p":0,"c":5},{"x":106.1,"y":2.15,"p":0,"c":5},
{"x":107.0,"y":1.76,"p":0,"c":5},{"x":107.0,"y":1.9,"p":0,"c":5},{"x":107.0,"y":2.1,"p":0,"c":5},{"x":107.0,"y":2.3,"p":0,"c":5},
{"x":107.9,"y":1.8,"p":0,"c":5},{"x":107.9,"y":1.98,"p":0,"c":5},{"x":107.9,"y":2.2,"p":0,"c":5},{"x":107.9,"y":2.45,"p":0,"c":5},
{"x":108.8,"y":1.74,"p":0,"c":5},{"x":108.8,"y":1.92,"p":0,"c":5},{"x":108.8,"y":2.12,"p":0,"c":5},{"x":108.8,"y":2.4,"p":0,"c":5},{"x":108.8,"y":2.65,"p":0,"c":5},
{"x":109.7,"y":1.78,"p":0,"c":5},{"x":109.7,"y":1.95,"p":0,"c":5},{"x":109.7,"y":2.15,"p":0,"c":5},{"x":109.7,"y":2.5,"p":0,"c":5},
{"x":110.6,"y":1.76,"p":0,"c":5},{"x":110.6,"y":1.9,"p":0,"c":5},{"x":110.6,"y":2.08,"p":0,"c":5},{"x":110.6,"y":2.3,"p":0,"c":5},
{"x":111.5,"y":1.8,"p":0,"c":5},{"x":111.5,"y":1.97,"p":0,"c":5},{"x":111.5,"y":2.2,"p":0,"c":5},{"x":111.5,"y":2.45,"p":0,"c":5},{"x":111.5,"y":2.7,"p":0,"c":5},
{"x":112.4,"y":1.75,"p":0,"c":5},{"x":112.4,"y":1.92,"p":0,"c":5},{"x":112.4,"y":2.12,"p":0,"c":5},{"x":112.4,"y":2.35,"p":0,"c":5},
{"x":113.3,"y":1.78,"p":0,"c":5},{"x":113.3,"y":1.95,"p":0,"c":5},{"x":113.3,"y":2.15,"p":0,"c":5},{"x":113.3,"y":2.4,"p":0,"c":5},
{"x":114.2,"y":1.76,"p":0,"c":5},{"x":114.2,"y":1.9,"p":0,"c":5},{"x":114.2,"y":2.1,"p":0,"c":5},
{"x":115.1,"y":1.8,"p":0,"c":5},{"x":115.1,"y":1.98,"p":0,"c":5},{"x":115.1,"y":2.2,"p":0,"c":5},{"x":115.1,"y":2.5,"p":0,"c":5},
{"x":116.0,"y":1.74,"p":0,"c":5},{"x":116.0,"y":1.92,"p":0,"c":5},{"x":116.0,"y":2.12,"p":0,"c":5},{"x":116.0,"y":2.35,"p":0,"c":5},
{"x":116.9,"y":1.78,"p":0,"c":5},{"x":116.9,"y":1.95,"p":0,"c":5},{"x":116.9,"y":2.15,"p":0,"c":5},{"x":116.9,"y":2.45,"p":0,"c":5},{"x":116.9,"y":2.65,"p":0,"c":5},
{"x":117.8,"y":1.76,"p":0,"c":5},{"x":117.8,"y":1.9,"p":0,"c":5},{"x":117.8,"y":2.1,"p":0,"c":5},{"x":117.8,"y":2.3,"p":0,"c":5},
{"x":118.7,"y":1.8,"p":0,"c":5},{"x":118.7,"y":1.97,"p":0,"c":5},{"x":118.7,"y":2.2,"p":0,"c":5},
{"x":119.3,"y":1.75,"p":0,"c":5},{"x":119.3,"y":1.9,"p":0,"c":5},{"x":119.3,"y":2.08,"p":0,"c":5},
{"x":93.4,"y":2.88,"p":0,"c":5},{"x":94.5,"y":2.72,"p":0,"c":5},{"x":95.8,"y":3.15,"p":0,"c":5},{"x":95.8,"y":2.94,"p":0,"c":5},{"x":100.0,"y":3.75,"p":0,"c":5},{"x":101.1,"y":3.68,"p":0,"c":5},{"x":100.4,"y":3.12,"p":0,"c":5},{"x":101.7,"y":3.0,"p":0,"c":5},{"x":102.8,"y":3.32,"p":0,"c":5},{"x":105.5,"y":3.3,"p":0,"c":5},{"x":106.2,"y":3.12,"p":0,"c":5},{"x":108.1,"y":4.2,"p":0,"c":5},{"x":108.8,"y":4.08,"p":0,"c":5},{"x":108.5,"y":3.66,"p":0,"c":5},{"x":109.2,"y":3.66,"p":0,"c":5},{"x":109.2,"y":3.42,"p":0,"c":5},{"x":111.0,"y":3.9,"p":0,"c":5},{"x":111.0,"y":3.66,"p":0,"c":5},{"x":111.3,"y":3.42,"p":0,"c":5},{"x":110.6,"y":3.18,"p":0,"c":5},{"x":113.6,"y":3.68,"p":0,"c":5},{"x":116.8,"y":3.84,"p":0,"c":5},{"x":117.1,"y":3.42,"p":0.01,"c":5},{"x":114.9,"y":3.0,"p":0,"c":5},{"x":117.4,"y":3.0,"p":0,"c":5},{"x":97.8,"y":2.82,"p":0,"c":5},{"x":98.9,"y":2.94,"p":0,"c":5},{"x":104.6,"y":2.8,"p":0,"c":5},{"x":112.7,"y":2.94,"p":0,"c":5},{"x":116.3,"y":2.76,"p":0,"c":5},{"x":117.8,"y":2.82,"p":0,"c":5}
],
"fri":[{"x":74.2,"p":0.82,"lab":"1"},{"x":74.2,"p":0.45,"lab":"2"}],
"var":[
{"step":0,"comp":"Explained","v":0,"o":0},{"step":0,"comp":"Genetic","v":0.96,"o":1},{"step":0,"comp":"Error","v":0.04,"o":2},
{"step":1,"comp":"Explained","v":0.12,"o":0},{"step":1,"comp":"Genetic","v":0.832,"o":1},{"step":1,"comp":"Error","v":0.048,"o":2},
{"step":2,"comp":"Explained","v":0.325,"o":0},{"step":2,"comp":"Genetic","v":0.61,"o":1},{"step":2,"comp":"Error","v":0.065,"o":2},
{"step":3,"comp":"Explained","v":0.41,"o":0},{"step":3,"comp":"Genetic","v":0.52,"o":1},{"step":3,"comp":"Error","v":0.07,"o":2},
{"step":4,"comp":"Explained","v":0.48,"o":0},{"step":4,"comp":"Genetic","v":0.472,"o":1},{"step":4,"comp":"Error","v":0.048,"o":2},
{"step":5,"comp":"Explained","v":0.55,"o":0},{"step":5,"comp":"Genetic","v":0.378,"o":1},{"step":5,"comp":"Error","v":0.072,"o":2},
{"step":6,"comp":"Explained","v":0.59,"o":0},{"step":6,"comp":"Genetic","v":0.33,"o":1},{"step":6,"comp":"Error","v":0.08,"o":2},
{"step":7,"comp":"Explained","v":0.675,"o":0},{"step":7,"comp":"Genetic","v":0.237,"o":1},{"step":7,"comp":"Error","v":0.088,"o":2},
{"step":8,"comp":"Explained","v":0.72,"o":0},{"step":8,"comp":"Genetic","v":0.188,"o":1},{"step":8,"comp":"Error","v":0.092,"o":2},
{"step":9,"comp":"Explained","v":0.76,"o":0},{"step":9,"comp":"Genetic","v":0.155,"o":1},{"step":9,"comp":"Error","v":0.085,"o":2},
{"step":10,"comp":"Explained","v":0.81,"o":0},{"step":10,"comp":"Genetic","v":0.094,"o":1},{"step":10,"comp":"Error","v":0.096,"o":2},
{"step":11,"comp":"Explained","v":0.78,"o":0},{"step":11,"comp":"Genetic","v":0.11,"o":1},{"step":11,"comp":"Error","v":0.11,"o":2},
{"step":12,"comp":"Explained","v":0.72,"o":0},{"step":12,"comp":"Genetic","v":0.185,"o":1},{"step":12,"comp":"Error","v":0.095,"o":2},
{"step":13,"comp":"Explained","v":0.675,"o":0},{"step":13,"comp":"Genetic","v":0.233,"o":1},{"step":13,"comp":"Error","v":0.092,"o":2},
{"step":14,"comp":"Explained","v":0.59,"o":0},{"step":14,"comp":"Genetic","v":0.328,"o":1},{"step":14,"comp":"Error","v":0.082,"o":2},
{"step":15,"comp":"Explained","v":0.54,"o":0},{"step":15,"comp":"Genetic","v":0.393,"o":1},{"step":15,"comp":"Error","v":0.067,"o":2},
{"step":16,"comp":"Explained","v":0.49,"o":0},{"step":16,"comp":"Genetic","v":0.462,"o":1},{"step":16,"comp":"Error","v":0.048,"o":2},
{"step":17,"comp":"Explained","v":0.42,"o":0},{"step":17,"comp":"Genetic","v":0.513,"o":1},{"step":17,"comp":"Error","v":0.067,"o":2},
{"step":18,"comp":"Explained","v":0.325,"o":0},{"step":18,"comp":"Genetic","v":0.61,"o":1},{"step":18,"comp":"Error","v":0.065,"o":2},
{"step":19,"comp":"Explained","v":0.12,"o":0},{"step":19,"comp":"Genetic","v":0.828,"o":1},{"step":19,"comp":"Error","v":0.052,"o":2},
{"step":20,"comp":"Explained","v":0,"o":0},{"step":20,"comp":"Genetic","v":0.96,"o":1},{"step":20,"comp":"Error","v":0.04,"o":2}
]
},
"spacing":10,
"vconcat":[
{
"spacing":19,
"bounds":"flush",
"vconcat":[
{
"width":552,"height":173,
"resolve":{"axis":{"x":"independent","y":"independent"}},
"layer":[
{"data":{"values":[{"x":74.2}]},"mark":{"type":"rule","color":"#8c8c8c","strokeWidth":1},
 "encoding":{"x":{"field":"x","type":"quantitative","axis":null}}},
{"data":{"name":"snp"},"mark":{"type":"circle","size":21,"opacity":0.85},
 "encoding":{
  "x":{"field":"x","type":"quantitative","scale":{"domain":[-0.44,120.35],"nice":false,"zero":false},"axis":{"values":[16.1,40.8,62.3,83.2,105.8],"labels":false,"title":null}},
  "y":{"field":"y","type":"quantitative","scale":{"domain":[-0.3,5.95],"nice":false,"zero":false},"axis":{"values":[0,1,2,3,4,5],"title":"−log(p-value)","titlePadding":10}},
  "color":{"field":"c","type":"ordinal","scale":{"domain":[1,2,3,4,5],"range":["#22b422","#2b95ea","#22b422","#2b95ea","#22b422"]},"legend":null}}},
{"data":{"values":[{"x":116.4,"y":5.66,"lab":"a"}]},"mark":{"type":"text","fontSize":15,"align":"center","baseline":"middle","color":"black"},
 "encoding":{
  "x":{"field":"x","type":"quantitative","axis":{"orient":"top","values":[16.1,40.8,62.3,83.2,105.8],"labels":false,"title":null,"domain":false}},
  "y":{"field":"y","type":"quantitative","axis":{"orient":"right","values":[0,1,2,3,4,5],"labels":false,"title":null,"domain":false}},
  "text":{"field":"lab"}}}
]
},
{
"width":552,"height":173,
"resolve":{"axis":{"x":"independent","y":"independent"}},
"layer":[
{"data":{"values":[{"x":74.2}]},"mark":{"type":"rule","color":"#8c8c8c","strokeWidth":1},
 "encoding":{"x":{"field":"x","type":"quantitative","axis":null}}},
{"data":{"name":"snp"},"mark":{"type":"circle","size":16,"opacity":0.8},
 "encoding":{
  "x":{"field":"x","type":"quantitative","scale":{"domain":[-0.44,120.35],"nice":false,"zero":false},"axis":{"values":[16.1,40.8,62.3,83.2,105.8],"labelExpr":"datum.value < 30 ? '1' : datum.value < 50 ? '2' : datum.value < 70 ? '3' : datum.value < 95 ? '4' : '5'","labelFontSize":10,"title":"Chromosome","titlePadding":4}},
  "y":{"field":"p","type":"quantitative","scale":{"domain":[-0.05,1.05],"nice":false,"zero":false},"axis":{"values":[0,0.2,0.4,0.6,0.8,1.0],"format":".1f","title":"Posterior prob. of assoc.","titlePadding":6}},
  "color":{"field":"c","type":"ordinal","scale":{"domain":[1,2,3,4,5],"range":["#22b422","#2b95ea","#22b422","#2b95ea","#22b422"]},"legend":null}}},
{"data":{"name":"fri"},"mark":{"type":"circle","size":22,"opacity":0.9,"color":"#f2a463"},
 "encoding":{"x":{"field":"x","type":"quantitative","axis":null},"y":{"field":"p","type":"quantitative","axis":null}}},
{"data":{"name":"fri"},"mark":{"type":"text","fontSize":13,"align":"left","baseline":"middle","dx":6,"color":"black"},
 "encoding":{"x":{"field":"x","type":"quantitative","axis":null},"y":{"field":"p","type":"quantitative","axis":null},"text":{"field":"lab"}}},
{"data":{"values":[{"x":116.6,"y":1.01,"lab":"b"}]},"mark":{"type":"text","fontSize":15,"align":"center","baseline":"middle","color":"black"},
 "encoding":{
  "x":{"field":"x","type":"quantitative","axis":{"orient":"top","values":[16.1,40.8,62.3,83.2,105.8],"labels":false,"title":null,"domain":false}},
  "y":{"field":"y","type":"quantitative","axis":{"orient":"right","values":[0,0.2,0.4,0.6,0.8,1.0],"labels":false,"title":null,"domain":false}},
  "text":{"field":"lab"}}}
]
}
]
},
{
"width":423,"height":138,
"resolve":{"axis":{"x":"independent","y":"independent"}},
"layer":[
{"data":{"name":"var"},"mark":{"type":"area","opacity":1},
 "encoding":{
  "x":{"field":"step","type":"quantitative","scale":{"domain":[0,20],"nice":false,"zero":false},"axis":{"values":[0,5,10,15,20],"title":"Step number","titlePadding":4}},
  "y":{"field":"v","type":"quantitative","stack":"zero","scale":{"domain":[0,1],"nice":false},"axis":{"values":[0,0.2,0.4,0.6,0.8,1.0],"format":".1f","title":"Partition of variance","titlePadding":6}},
  "color":{"field":"comp","type":"nominal","scale":{"domain":["Error","Genetic","Explained"],"range":["#ffd45e","#4ccc47","#2c6694"]},"legend":null},
  "order":{"field":"o","type":"quantitative"}}},
{"data":{"name":"var"},"mark":{"type":"point","filled":true,"opacity":0},
 "encoding":{
  "x":{"field":"step","type":"quantitative","axis":null},
  "y":{"field":"v","type":"quantitative","axis":null},
  "fill":{"field":"comp","type":"nominal","scale":{"domain":["Error","Genetic","Explained"],"range":["#ffd45e","#4ccc47","#4a74b8"]},
   "legend":{"title":null,"orient":"none","legendX":429,"legendY":463.5,"padding":0,"symbolType":"M-0.6545,-0.218H0.6545V0.218H-0.6545Z","symbolSize":3025,"symbolStrokeColor":"#333333","symbolStrokeWidth":1,"symbolOpacity":1,"symbolFillOpacity":1,"labelFontSize":12,"labelOffset":4,"rowPadding":10.5,"clipHeight":13,"labelColor":"black"}}}},
{"data":{"values":[{"step":2}]},"mark":{"type":"rule","color":"#b0281a","strokeWidth":2.5},
 "encoding":{"x":{"field":"step","type":"quantitative","axis":null}}},
{"data":{"values":[{"step":10}]},"mark":{"type":"rule","color":"#1a1a1a","strokeWidth":1.5,"strokeDash":[2,2.5]},
 "encoding":{"x":{"field":"step","type":"quantitative","axis":null}}},
{"data":{"values":[{"step":2.2,"y":1.0,"lab":"FRI-indels"}]},"mark":{"type":"text","fontSize":12,"align":"center","baseline":"middle","dy":-8,"color":"black"},
 "encoding":{"x":{"field":"step","type":"quantitative","axis":null},"y":{"field":"y","type":"quantitative","axis":null},"text":{"field":"lab"}}},
{"data":{"values":[{"step":25.15,"y":1.015,"lab":"c"}]},"mark":{"type":"text","fontSize":15,"align":"center","baseline":"middle","color":"black"},
 "encoding":{
  "x":{"field":"step","type":"quantitative","axis":{"orient":"top","values":[0,5,10,15,20],"labels":false,"ticks":false,"title":null,"domain":false}},
  "y":{"field":"y","type":"quantitative","axis":{"orient":"right","values":[0,0.2,0.4,0.6,0.8,1.0],"labels":false,"title":null,"domain":false}},
  "text":{"field":"lab"}}}
]
}
]
}
